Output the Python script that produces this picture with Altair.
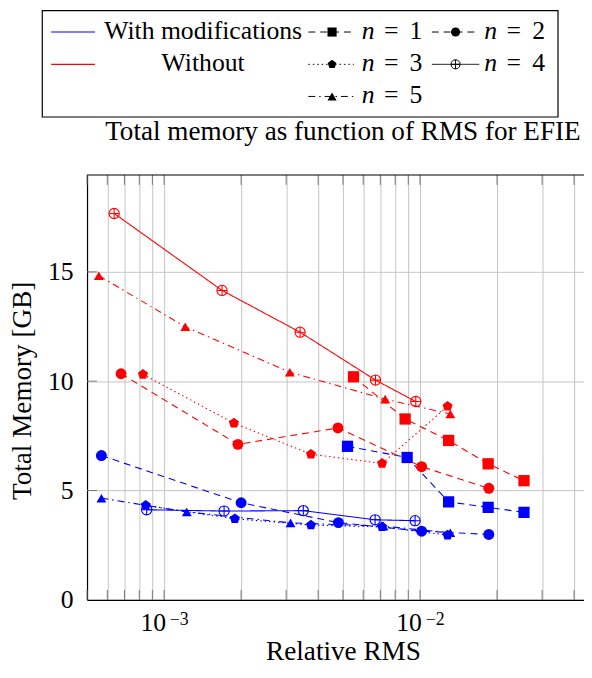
import altair as alt
import pandas as pd

# ---------------- data ----------------
n_labels = ["1", "2", "3", "4", "5"]
version_labels = ["With modifications", "Without"]

# With modifications (blue)
with_n1_rms = [5.21e-3, 8.91e-3, 1.294e-2, 1.847e-2, 2.55e-2]
with_n1_mem = [7.02, 6.51, 4.48, 4.23, 4.00]
with_n2_rms = [5.69e-4, 2.0e-3, 4.80e-3, 1.015e-2, 1.858e-2]
with_n2_mem = [6.60, 4.44, 3.53, 3.14, 2.99]
with_n3_rms = [8.48e-4, 1.89e-3, 3.75e-3, 7.11e-3, 1.282e-2]
with_n3_mem = [4.32, 3.71, 3.42, 3.34, 2.96]
with_n4_rms = [8.55e-4, 1.716e-3, 3.50e-3, 6.68e-3, 9.57e-3]
with_n4_mem = [4.12, 4.06, 4.08, 3.66, 3.62]
with_n5_rms = [5.69e-4, 1.227e-3, 3.12e-3, 7.20e-3, 1.314e-2]
with_n5_mem = [4.65, 4.02, 3.52, 3.37, 3.07]

# Without (red)
without_n1_rms = [5.50e-3, 8.75e-3, 1.294e-2, 1.847e-2, 2.55e-2]
without_n1_mem = [10.20, 8.27, 7.29, 6.22, 5.45]
without_n2_rms = [6.79e-4, 1.943e-3, 4.78e-3, 1.015e-2, 1.858e-2]
without_n2_mem = [10.34, 7.11, 7.86, 6.09, 5.10]
without_n3_rms = [8.27e-4, 1.875e-3, 3.75e-3, 7.11e-3, 1.282e-2]
without_n3_mem = [10.31, 8.08, 6.66, 6.24, 8.85]
without_n4_rms = [6.38e-4, 1.685e-3, 3.40e-3, 6.70e-3, 9.63e-3]
without_n4_mem = [17.67, 14.15, 12.24, 10.05, 9.07]
without_n5_rms = [5.56e-4, 1.21e-3, 3.10e-3, 7.31e-3, 1.314e-2]
without_n5_mem = [14.82, 12.49, 10.41, 9.18, 8.50]

x_grid_ticks = [5e-4, 6e-4, 7e-4, 8e-4, 9e-4,
                1e-3, 2e-3, 3e-3, 4e-3, 5e-3, 6e-3, 7e-3, 8e-3, 9e-3,
                1e-2, 2e-2, 3e-2, 4e-2]
x_label_ticks = [1e-3, 1e-2]
x_label_exponents = ["\u22123", "\u22122"]
y_ticks = [0, 5, 10, 15]

title_text = "Total memory as function of RMS for EFIE"
x_title = "Relative RMS"
y_title = "Total Memory [GB]"

# ---------------- build tables ----------------
series = {
    ("With modifications", "1"): (with_n1_rms, with_n1_mem),
    ("With modifications", "2"): (with_n2_rms, with_n2_mem),
    ("With modifications", "3"): (with_n3_rms, with_n3_mem),
    ("With modifications", "4"): (with_n4_rms, with_n4_mem),
    ("With modifications", "5"): (with_n5_rms, with_n5_mem),
    ("Without", "1"): (without_n1_rms, without_n1_mem),
    ("Without", "2"): (without_n2_rms, without_n2_mem),
    ("Without", "3"): (without_n3_rms, without_n3_mem),
    ("Without", "4"): (without_n4_rms, without_n4_mem),
    ("Without", "5"): (without_n5_rms, without_n5_mem),
}
rows = []
for (ver, n), (xs_, ys_) in series.items():
    for xv, yv in zip(xs_, ys_):
        rows.append({"version": ver, "n": n, "rms": xv, "mem": yv})
df = pd.DataFrame(rows)

FONT = "Liberation Serif"
FS = 26
FS_T = 27.5
W, H = 503, 430

PENT = "M0,-1L0.951,-0.309L0.588,0.809L-0.588,0.809L-0.951,-0.309Z"
OPLUS = "M-1,0A1,1,0,1,1,1,0A1,1,0,1,1,-1,0M-1,0L1,0M0,-1L0,1"

xs = alt.Scale(type="log", domain=[5e-4, 4.375e-2], nice=False)
ys = alt.Scale(domain=[0, 19.43], nice=False, zero=False)
color_scale = alt.Scale(domain=version_labels, range=["#0000ff", "#ff0000"])
dash_scale = alt.Scale(domain=n_labels,
                       range=[[7, 5], [7, 5], [1.5, 3], [1, 0], [7, 4, 1.5, 4]])
shape_scale = alt.Scale(domain=n_labels,
                        range=["square", "circle", PENT, OPLUS, "triangle-up"])
size_scale = alt.Scale(domain=n_labels, range=[130, 100, 117, 121, 121])

x_axis = alt.Axis(values=x_grid_ticks, labels=False, ticks=False, grid=True,
                  gridColor="#c4c4c4", gridWidth=1, domainColor="black",
                  domainWidth=1.2, title=x_title, titleFont=FONT,
                  titleFontSize=FS_T, titleFontWeight="normal", titleColor="black",
                  titleX=259, titleY=60, titleAlign="center",
                  titleBaseline="alphabetic")
y_axis = alt.Axis(values=y_ticks, ticks=False, grid=True, gridColor="#c4c4c4",
                  gridWidth=1, domainColor="black", domainWidth=1.2,
                  labelFont=FONT, labelFontSize=FS, labelColor="black",
                  labelPadding=14, title=y_title, titleFont=FONT,
                  titleFontSize=FS_T, titleFontWeight="normal", titleColor="black",
                  titleX=-65.5, titleY=218, titleAngle=270, titleAlign="center",
                  titleBaseline="middle")

X = alt.X("rms:Q", scale=xs, axis=x_axis)
Y = alt.Y("mem:Q", scale=ys, axis=y_axis)

lines = alt.Chart(df).mark_line(strokeWidth=1.1, clip=True).encode(
    x=X, y=Y,
    color=alt.Color("version:N", scale=color_scale, legend=None),
    strokeDash=alt.StrokeDash("n:N", scale=dash_scale, legend=None),
)

pts_filled = alt.Chart(df).transform_filter("datum.n != '4'").mark_point(
    filled=True, opacity=1).encode(
    x=X, y=Y,
    color=alt.Color("version:N", scale=color_scale, legend=None),
    shape=alt.Shape("n:N", scale=shape_scale, legend=None),
    size=alt.Size("n:O", scale=size_scale, legend=None),
)
pts_open = alt.Chart(df).transform_filter("datum.n == '4'").mark_point(
    filled=False, opacity=1, strokeWidth=1.1).encode(
    x=X, y=Y,
    color=alt.Color("version:N", scale=color_scale, legend=None),
    shape=alt.Shape("n:N", scale=shape_scale, legend=None),
    size=alt.Size("n:O", scale=size_scale, legend=None),
)

# inner tick marks
xt_df = pd.DataFrame({"rms": x_grid_ticks})
yt_df = pd.DataFrame({"mem": y_ticks[1:]})
ticks_bottom = alt.Chart(xt_df).mark_rule(color="#777777", strokeWidth=1).encode(
    x=X, y=alt.value(H - 10), y2=alt.value(H))
ticks_top = alt.Chart(xt_df).mark_rule(color="#777777", strokeWidth=1).encode(
    x=X, y=alt.value(0), y2=alt.value(10))
ticks_left = alt.Chart(yt_df).mark_rule(color="#777777", strokeWidth=1).encode(
    y=Y, x=alt.value(0), x2=alt.value(10))
frame_top = alt.Chart(pd.DataFrame({"a": [0]})).mark_rule(
    color="black", strokeWidth=1.2).encode(
    x=alt.value(0), x2=alt.value(W), y=alt.value(0))

# x tick labels 10^k
xl_df = pd.DataFrame({"rms": x_label_ticks, "exp": x_label_exponents})
xlab_base = alt.Chart(xl_df).mark_text(font=FONT, fontSize=FS, dx=-11,
                                       align="center", baseline="alphabetic",
                                       color="black").encode(
    x=X, y=alt.value(H + 32), text=alt.value("10"))
xlab_exp = alt.Chart(xl_df).mark_text(font=FONT, fontSize=18, dx=15.4,
                                      align="center", baseline="alphabetic",
                                      color="black").encode(
    x=X, y=alt.value(H + 25), text="exp:N")

# title
title = alt.Chart(pd.DataFrame({"a": [0]})).mark_text(
    font=FONT, fontSize=FS_T, align="center", baseline="alphabetic",
    color="black").encode(x=alt.value(259), y=alt.value(-35),
                          text=alt.value(title_text))

# ---------------- legend (drawn) ----------------
row_y = [-144.7, -112.0, -79.5]
col_sample_x0 = [224, 349]
col_sample_x1 = [270, 397]
col_marker_x = [248, 373]
col_n_x = [278, 402]
col_eq_x = [308, 432]
col_digit_x = [333, 457]
leg_col = [0, 1, 0, 1, 0]
leg_row = [0, 0, 1, 1, 2]
leg_df = pd.DataFrame({
    "n": n_labels,
    "lx0": [col_sample_x0[c] for c in leg_col],
    "lx1": [col_sample_x1[c] for c in leg_col],
    "lm": [col_marker_x[c] for c in leg_col],
    "ln": [col_n_x[c] for c in leg_col],
    "le": [col_eq_x[c] for c in leg_col],
    "ld": [col_digit_x[c] for c in leg_col],
    "ly": [row_y[r] for r in leg_row],
    "lyt": [row_y[r] + 7 for r in leg_row],
})
PX = lambda f: alt.X(f, scale=None, axis=None)
PY = lambda f: alt.Y(f, scale=None, axis=None)

leg_box = alt.Chart(pd.DataFrame({"a": [0]})).mark_rect(
    fill="white", stroke="black", strokeWidth=1.2).encode(
    x=alt.value(-45.3), x2=alt.value(476.7), y=alt.value(-166.3),
    y2=alt.value(-58.7))
leg_lines = alt.Chart(leg_df).mark_rule(color="black", strokeWidth=1).encode(
    x=PX("lx0:Q"), x2="lx1:Q", y=PY("ly:Q"),
    strokeDash=alt.StrokeDash("n:N", scale=dash_scale, legend=None))
leg_pts = alt.Chart(leg_df).transform_filter("datum.n != '4'").mark_point(
    filled=True, opacity=1, color="black", size=85).encode(
    x=PX("lm:Q"), y=PY("ly:Q"),
    shape=alt.Shape("n:N", scale=shape_scale, legend=None))
leg_pts_open = alt.Chart(leg_df).transform_filter("datum.n == '4'").mark_point(
    filled=False, opacity=1, color="black", size=85, strokeWidth=1).encode(
    x=PX("lm:Q"), y=PY("ly:Q"),
    shape=alt.Shape("n:N", scale=shape_scale, legend=None))
leg_n = alt.Chart(leg_df).mark_text(font=FONT, fontSize=FS, fontStyle="italic",
                                    align="left", baseline="alphabetic",
                                    color="black").encode(
    x=PX("ln:Q"), y=PY("lyt:Q"), text=alt.value("n"))
leg_eq = alt.Chart(leg_df).mark_text(font=FONT, fontSize=FS, align="center",
                                     baseline="alphabetic", color="black").encode(
    x=PX("le:Q"), y=PY("lyt:Q"), text=alt.value("="))
leg_d = alt.Chart(leg_df).mark_text(font=FONT, fontSize=FS, align="center",
                                    baseline="alphabetic", color="black").encode(
    x=PX("ld:Q"), y=PY("lyt:Q"), text="n:N")

ver_df = pd.DataFrame({"version": version_labels,
                       "ly": [row_y[0], row_y[1]],
                       "lyt": [row_y[0] + 7, row_y[1] + 7]})
leg_ver_lines = alt.Chart(ver_df).mark_rule(strokeWidth=1.1).encode(
    x=alt.value(-36.3), x2=alt.value(8), y=PY("ly:Q"),
    color=alt.Color("version:N", scale=color_scale, legend=None))
leg_ver_text = alt.Chart(ver_df).mark_text(font=FONT, fontSize=FS,
                                           align="center", baseline="alphabetic",
                                           color="black").encode(
    x=alt.value(117.5), y=PY("lyt:Q"), text="version:N")

chart = alt.layer(
    ticks_bottom, ticks_top, ticks_left, lines, pts_filled, pts_open,
    frame_top, xlab_base, xlab_exp, title,
    leg_box, leg_lines, leg_pts, leg_pts_open, leg_n, leg_eq, leg_d,
    leg_ver_lines, leg_ver_text,
).properties(
    width=W, height=H,
    autosize=alt.AutoSizeParams(type="none"),
    padding={"left": 80, "top": 165, "right": 0, "bottom": 67},
).configure_view(stroke=None)

chart.save("out.html", embed_options={"renderer": "svg", "actions": False})
